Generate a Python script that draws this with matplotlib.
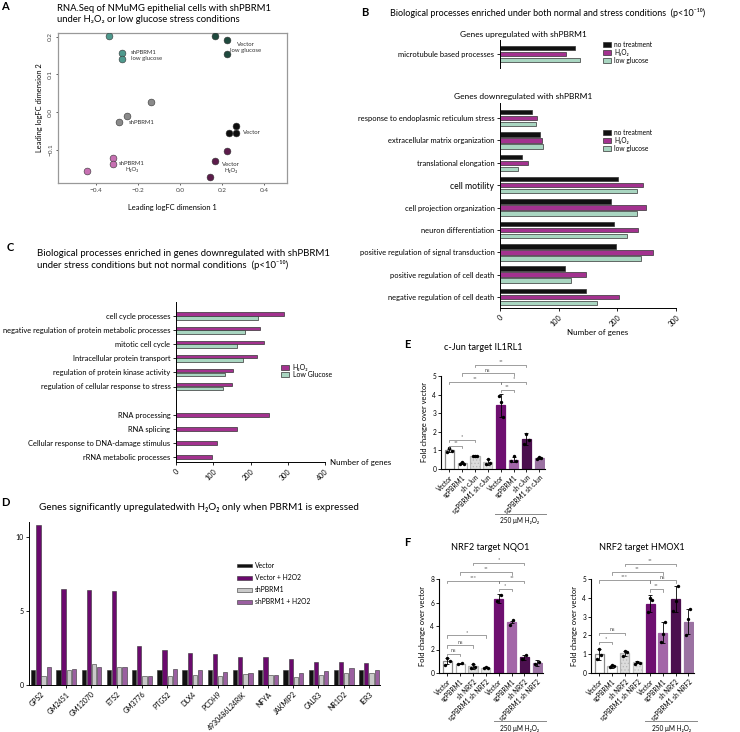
import matplotlib
matplotlib.use('Agg')
import matplotlib.pyplot as plt
import numpy as np
from matplotlib.patches import Patch
from matplotlib.lines import Line2D

plt.rcParams['font.family'] = ['Lato', 'DejaVu Sans']
plt.rcParams['axes.linewidth'] = 0.7
plt.rcParams['xtick.major.width'] = 0.6
plt.rcParams['ytick.major.width'] = 0.6
plt.rcParams['xtick.major.size'] = 2
plt.rcParams['ytick.major.size'] = 2
plt.rcParams['hatch.linewidth'] = 0.5

# ---------------- data ----------------
# Panel A (MDS plot)
a_vec_x = [0.267, 0.235, 0.267]
a_vec_y = [-0.036, -0.055, -0.055]
a_sh_x = [-0.135, -0.25, -0.29]
a_sh_y = [0.028, -0.01, -0.026]
a_vech_x = [0.224, 0.167, 0.143]
a_vech_y = [-0.102, -0.129, -0.172]
a_shh_x = [-0.32, -0.32, -0.44]
a_shh_y = [-0.121, -0.137, -0.155]
a_vecl_x = [0.167, 0.224, 0.224]
a_vecl_y = [0.203, 0.192, 0.155]
a_shl_x = [-0.338, -0.276, -0.276]
a_shl_y = [0.203, 0.158, 0.142]

# Panel B
b_up_cats = ["microtubule based processes"]
b_up_none = [128]
b_up_h2o2 = [113]
b_up_lowglu = [136]
b_down_cats = ["response to endoplasmic reticulum stress", "extracellular matrix organization",
               "translational elongation", "cell motility", "cell projection organization",
               "neuron differentiation", "positive regulation of signal transduction",
               "positive regulation of cell death", "negative regulation of cell death"]
b_down_none = [55, 69, 37, 201, 190, 194, 197, 111, 147]
b_down_h2o2 = [63, 71, 47, 243, 249, 236, 260, 147, 203]
b_down_lowglu = [61, 73, 30, 234, 234, 217, 241, 121, 165]
b_legend = ["no treatment", "H₂O₂", "low glucose"]

# Panel C
c_both_cats = ["cell cycle processes", "negative regulation of protein metabolic processes",
               "mitotic cell cycle", "Intracellular protein transport",
               "regulation of protein kinase activity", "regulation of cellular response to stress"]
c_both_h2o2 = [291, 226, 235, 218, 154, 151]
c_both_lowglu = [220, 185, 163, 179, 132, 127]
c_only_cats = ["RNA processing", "RNA splicing", "Cellular response to DNA-damage stimulus",
               "rRNA metabolic processes"]
c_only_h2o2 = [251, 163, 111, 97]

# Panel D
d_genes = ["GPS2", "GM2451", "GM12070", "ETS2", "GM3776", "PTGS2", "DLX4", "PCDH9",
           "4930486L24RIK", "NFYA", "JAKMIP2", "CALR3", "NR1D2", "IER3"]
d_vector = [1.0] * 14
d_vector_h2o2 = [10.77, 6.45, 6.38, 6.31, 2.62, 2.33, 2.13, 2.08, 1.88, 1.86, 1.76, 1.56, 1.52, 1.49]
d_sh = [0.6, 1.0, 1.43, 1.24, 0.6, 0.63, 0.7, 0.63, 0.75, 0.68, 0.52, 0.68, 0.81, 0.84]
d_sh_h2o2 = [1.2, 1.08, 1.2, 1.24, 0.63, 1.06, 1.04, 0.88, 0.79, 0.68, 0.84, 0.95, 1.13, 1.02]
d_legend = ["Vector", "Vector + H2O2", "shPBRM1", "shPBRM1 + H2O2"]

# Panel E (c-Jun target IL1RL1)
e_labels = ["Vector", "sgPBRM1", "sh cJun", "sgPBRM1 sh cJun",
            "Vector", "sgPBRM1", "sh cJun", "sgPBRM1 sh cJun"]
e_means = [1.0, 0.32, 0.7, 0.36, 3.42, 0.5, 1.6, 0.58]
e_errs = [0.1, 0.06, 0.05, 0.17, 0.6, 0.15, 0.33, 0.05]
e_dots = [[0.92, 1.12, 0.95], [0.28, 0.38, 0.27], [0.72, 0.68, 0.72], [0.25, 0.52, 0.3],
          [3.95, 3.62, 2.8], [0.45, 0.68, 0.45], [1.35, 1.9, 1.55], [0.55, 0.62, 0.58]]
e_brackets = [(0, 1, 1.25, "**"), (0, 2, 1.55, "*"), (4, 5, 4.25, "**"),
              (0, 4, 4.7, "**"), (4, 6, 4.7, "*"), (1, 5, 5.15, "ns"), (2, 6, 5.6, "**")]

# Panel F (NRF2 target NQO1)
f_labels = ["Vector", "sgPBRM1", "sh NRF2", "sgPBRM1 sh NRF2",
            "Vector", "sgPBRM1", "sh NRF2", "sgPBRM1 sh NRF2"]
f_means = [1.0, 0.8, 0.57, 0.45, 6.33, 4.34, 1.33, 0.85]
f_errs = [0.25, 0.02, 0.2, 0.05, 0.4, 0.1, 0.2, 0.25]
f_dots = [[0.65, 1.25, 1.0], [0.8, 0.82], [0.45, 0.75, 0.5], [0.42, 0.5, 0.45],
          [6.1, 6.6], [4.1, 4.55], [1.2, 1.5], [0.8, 0.95]]
f_brackets = [(0, 1, 1.65, "ns"), (0, 2, 2.35, "ns"), (0, 3, 3.2, "*"), (4, 5, 7.15, "*"),
              (0, 4, 7.86, "***"), (4, 6, 7.86, "**"), (1, 5, 8.57, "**"), (2, 6, 9.36, "*")]

# Panel F (NRF2 target HMOX1)
g_means = [1.0, 0.36, 1.05, 0.59, 3.68, 2.14, 3.95, 2.73]
g_errs = [0.3, 0.07, 0.12, 0.07, 0.45, 0.55, 0.7, 0.65]
g_dots = [[0.75, 1.3, 0.95], [0.3, 0.45, 0.35], [0.9, 1.15, 1.1], [0.5, 0.6, 0.55],
          [3.25, 4.0, 3.9], [1.65, 2.05, 2.7], [3.3, 3.85, 4.65], [2.0, 2.85, 3.4]]
g_brackets = [(0, 1, 1.66, "*"), (0, 2, 2.14, "ns"), (4, 5, 4.46, "**"),
              (0, 4, 4.93, "***"), (4, 6, 4.93, "ns"), (1, 5, 5.36, "**"), (2, 6, 5.8, "**")]

# ---------------- layout helpers ----------------
W, H = 740, 732
fig = plt.figure(figsize=(W / 100, H / 100), dpi=100)


def px_axes(l, t, r, b):
    return fig.add_axes([l / W, 1 - b / H, (r - l) / W, (b - t) / H])


def ftext(x, y, s, **kw):
    fig.text(x / W, 1 - y / H, s, **kw)


def fline(x1, x2, y, **kw):
    fig.add_artist(Line2D([x1 / W, x2 / W], [1 - y / H, 1 - y / H], transform=fig.transFigure, **kw))


PAN = dict(fontsize=8, fontweight='bold')

# ---------------- Panel A ----------------
ftext(5, 6, "A", va='center', ha='center', **PAN)
ftext(57, 14, "RNA.Seq of NMuMG epithelial cells with shPBRM1\nunder H₂O₂ or low glucose stress conditions",
      va='center', ha='left', fontsize=6.8, linespacing=1.25)
axA = px_axes(58, 33, 287, 183)
grp = [(a_vecl_x, a_vecl_y, '#1f4a3e'), (a_shl_x, a_shl_y, '#4f9a8e'), (a_sh_x, a_sh_y, '#8a8a8a'),
       (a_vec_x, a_vec_y, '#0d0d0d'), (a_shh_x, a_shh_y, '#c770b2'), (a_vech_x, a_vech_y, '#5c1c4b')]
for gx, gy, col in grp:
    axA.scatter(gx, gy, s=24, color=col, edgecolor='#333333', linewidth=0.4, zorder=3)
axA.set_xlim(-0.58, 0.51)
axA.set_ylim(-0.188, 0.21)
axA.set_xticks([-0.4, -0.2, 0.0, 0.2, 0.4])
axA.set_yticks([-0.1, 0.0, 0.1, 0.2])
axA.tick_params(labelsize=4.6, length=1.5, colors='#444444', pad=2)
for lab in axA.get_yticklabels():
    lab.set_rotation(90)
    lab.set_va('center')
for s in axA.spines.values():
    s.set_color('#999999')
    s.set_linewidth(0.9)
axA.set_xlabel("Leading logFC dimension 1", fontsize=5.4, labelpad=8)
axA.set_ylabel("Leading logFC dimension 2", fontsize=5.4, labelpad=4)
lf = dict(fontsize=4.3, color='#333333', linespacing=1.3)
axA.text(-0.233, 0.15, "shPBRM1\nlow glucose", ha='left', va='center', **lf)
axA.text(0.315, 0.172, "Vector\nlow glucose", ha='center', va='center', **lf)
axA.text(-0.243, -0.028, "shPBRM1", ha='left', va='center', **lf)
axA.text(0.30, -0.055, "Vector", ha='left', va='center', **lf)
axA.text(-0.229, -0.145, "shPBRM1\nH₂O₂", ha='center', va='center', **lf)
axA.text(0.243, -0.147, "Vector\nH₂O₂", ha='center', va='center', **lf)

# ---------------- Panel B ----------------
CB = ['#111111', '#a3328f', '#a9d6c1']
EB = '#333333'
ftext(365, 13, "B", va='center', ha='center', **PAN)
ftext(390, 13, "Biological processes enriched under both normal and stress conditions  (p<10⁻¹⁰)",
      va='center', ha='left', fontsize=6.5)
ftext(523, 35, "Genes upregulated with shPBRM1", va='center', ha='center', fontsize=6.0)
ftext(523, 97, "Genes downregulated with shPBRM1", va='center', ha='center', fontsize=6.0)

axB1 = px_axes(500, 40, 676, 68)
for k, vals in enumerate([b_up_none, b_up_h2o2, b_up_lowglu]):
    axB1.barh(np.arange(len(b_up_cats)) + (k - 1) * 1.0, vals, height=4.5 / 6.0,
              color=CB[k], edgecolor=EB, linewidth=0.5)
axB1.set_ylim(2.33, -2.33)
axB1.set_xlim(0, 300)
axB1.set_yticks([0])
axB1.set_yticklabels(b_up_cats, fontsize=5.4)
axB1.set_xticks([])
for s in ['top', 'right', 'bottom']:
    axB1.spines[s].set_visible(False)
axB1.tick_params(axis='y', length=2, pad=2)

axB2 = px_axes(500, 103, 676, 308)
step = 22.375
yb = np.arange(len(b_down_cats))
for k, vals in enumerate([b_down_none, b_down_h2o2, b_down_lowglu]):
    axB2.barh(yb + (k - 1) * 6 / step, vals, height=4.5 / step,
              color=CB[k], edgecolor=EB, linewidth=0.5)
axB2.set_ylim(8 + (308 - 297) / step, -(118 - 103) / step)
axB2.set_xlim(0, 300)
axB2.set_yticks(yb)
axB2.set_yticklabels(b_down_cats, fontsize=5.4)
for lab in axB2.get_yticklabels():
    if lab.get_text() == "cell motility":
        lab.set_fontsize(6.2)
axB2.set_xticks([0, 100, 200, 300])
axB2.set_xticklabels(["0", "100", "200", "300"], rotation=45, ha='right', va='top',
                     rotation_mode='anchor', fontsize=5.2)
for s in ['top', 'right']:
    axB2.spines[s].set_visible(False)
axB2.tick_params(axis='both', length=2, pad=2)
ftext(598, 333, "Number of genes", va='center', ha='center', fontsize=5.8)

hB = [Patch(facecolor=CB[k], edgecolor=EB, linewidth=0.5) for k in range(3)]
for yy in (41, 129):
    fig.legend(hB, b_legend, loc='upper left', bbox_to_anchor=(603 / W, 1 - yy / H),
               frameon=False, fontsize=4.8, handlelength=1.2, handleheight=0.7,
               labelspacing=0.15, handletextpad=0.5, borderpad=0, borderaxespad=0)

# ---------------- Panel C ----------------
CC = ['#a3328f', '#a9d6c1']
ftext(10, 248, "C", va='center', ha='center', **PAN)
ftext(37, 260, "Biological processes enriched in genes downregulated with shPBRM1\n"
      "under stress conditions but not normal conditions  (p<10⁻¹⁰)",
      va='center', ha='left', fontsize=6.9, linespacing=1.25)
axC = px_axes(176, 302, 325, 462)
cstep = 14.1
yc1 = np.arange(len(c_both_cats))
yc2 = np.arange(len(c_only_cats)) + len(c_both_cats) + 1
axC.barh(yc1 - 0.13, c_both_h2o2, height=0.24, color=CC[0], edgecolor=EB, linewidth=0.5)
axC.barh(yc1 + 0.13, c_both_lowglu, height=0.24, color=CC[1], edgecolor=EB, linewidth=0.5)
axC.barh(yc2, c_only_h2o2, height=0.26, color=CC[0], edgecolor=EB, linewidth=0.5)
axC.set_ylim(10 + (462 - 457) / cstep, -(316 - 302) / cstep)
axC.set_xlim(0, 400)
axC.set_yticks(list(yc1) + list(yc2))
axC.set_yticklabels(c_both_cats + c_only_cats, fontsize=5.4)
axC.set_xticks([0, 100, 200, 300, 400])
axC.set_xticklabels(["0", "100", "200", "300", "400"], rotation=45, ha='right', va='top',
                    rotation_mode='anchor', fontsize=5.2)
for s in ['top', 'right']:
    axC.spines[s].set_visible(False)
axC.tick_params(axis='both', length=2, pad=2)
ftext(330, 462, "Number of genes", va='center', ha='left', fontsize=5.8)
hC = [Patch(facecolor=CC[k], edgecolor=EB, linewidth=0.5) for k in range(2)]
fig.legend(hC, ["H₂O₂", "Low Glucose"], loc='upper left', bbox_to_anchor=(281 / W, 1 - 364 / H),
           frameon=False, fontsize=5.0, handlelength=1.2, handleheight=0.7,
           labelspacing=0.05, handletextpad=0.5, borderpad=0, borderaxespad=0)

# ---------------- Panel D ----------------
CD = ['#111111', '#6b0a6e', '#c9c9c9', '#9a5fa0']
ftext(5, 503, "D", va='center', ha='center', **PAN)
ftext(199, 507, "Genes significantly upregulatedwith H₂O₂ only when PBRM1 is expressed",
      va='center', ha='center', fontsize=7.1)
axD = px_axes(29, 522, 380, 685)
xd = np.arange(len(d_genes))
for k, vals in enumerate([d_vector, d_vector_h2o2, d_sh, d_sh_h2o2]):
    axD.bar(xd + (k - 1.5) * 0.205, vals, width=0.17, color=CD[k],
            edgecolor='#333333', linewidth=0.4)
axD.set_xlim(-0.476, 13.44)
axD.set_ylim(0, 11)
axD.set_yticks([0, 5, 10])
axD.set_xticks(xd)
axD.set_xticklabels(d_genes, rotation=45, ha='right', va='top', rotation_mode='anchor', fontsize=5.0)
axD.tick_params(axis='y', labelsize=5.0, length=2, pad=2)
axD.tick_params(axis='x', length=2, pad=2)
for s in ['top', 'right']:
    axD.spines[s].set_visible(False)
hD = [Patch(facecolor=CD[k], edgecolor='#333333', linewidth=0.4) for k in range(4)]
fig.legend(hD, d_legend, loc='upper left', bbox_to_anchor=(237 / W, 1 - 562 / H),
           frameon=False, fontsize=4.9, handlelength=2.2, handleheight=0.45,
           labelspacing=0.75, handletextpad=0.4, borderpad=0, borderaxespad=0)

# ---------------- qPCR panels ----------------
QFACE = ['white', 'white', '#dcdcdc', '#e6e6e6', '#6e0f70', '#a366a8', '#4b0f4e', '#9b72a2']
QEDGE = ['#8a8a8a', '#b0b0b0', '#b5b5b5', '#c0c0c0', '#6e0f70', '#a366a8', '#4b0f4e', '#9b72a2']
QHATCH = [None, None, '.....', '.....', None, None, '.....', None]


def qpcr(ax, labels, means, errs, dots, brackets, ymax, yticks):
    x = np.arange(len(means))
    for i in range(len(means)):
        ax.bar(x[i], means[i], width=0.72, color=QFACE[i], edgecolor=QEDGE[i], linewidth=0.9,
               hatch=QHATCH[i], zorder=2)
        ax.errorbar(x[i], means[i], yerr=errs[i], color='black', capsize=1.5, elinewidth=0.6,
                    capthick=0.6, zorder=3)
        n = len(dots[i])
        offs = [-0.17, 0, 0.17] if n == 3 else [-0.15, 0.15]
        ax.scatter(x[i] + np.array(offs), dots[i], s=6, color='black', zorder=4, linewidths=0)
    ax.set_xlim(-0.65, len(means) - 0.55)
    ax.set_ylim(0, ymax)
    ax.set_yticks(yticks)
    ax.set_xticks(x)
    ax.set_xticklabels(labels, rotation=45, ha='right', va='top', rotation_mode='anchor', fontsize=4.7)
    ax.tick_params(axis='y', labelsize=4.8, length=2, pad=1.5)
    ax.tick_params(axis='x', length=2, pad=1.5)
    for s in ['top', 'right']:
        ax.spines[s].set_visible(False)
    for s in ['left', 'bottom']:
        ax.spines[s].set_linewidth(0.8)
    ax.set_ylabel("Fold change over vector", fontsize=5.4, labelpad=3)
    hk = ymax * 0.025
    for i, j, yv, t in brackets:
        ax.plot([x[i], x[i], x[j], x[j]], [yv - hk, yv, yv, yv - hk], color='#777777', lw=0.5,
                clip_on=False, zorder=5)
        ax.text((x[i] + x[j]) / 2, yv + hk * 0.3, t, ha='center', va='bottom', fontsize=4.0,
                color='#555555', clip_on=False)


ftext(407, 344, "E", va='center', ha='center', **PAN)
ftext(483, 347, "c-Jun target IL1RL1", va='center', ha='center', fontsize=6.6)
axE = px_axes(441, 376, 545, 469)
qpcr(axE, e_labels, e_means, e_errs, e_dots, e_brackets, 5, [0, 1, 2, 3, 4, 5])
fline(495, 546, 514, color='#888888', lw=0.7)
ftext(520, 521, "250 μM H₂O₂", va='center', ha='center', fontsize=4.7)

ftext(407, 543, "F", va='center', ha='center', **PAN)
ftext(490, 548, "NRF2 target NQO1", va='center', ha='center', fontsize=6.6)
axF = px_axes(439, 579, 543, 673)
qpcr(axF, f_labels, f_means, f_errs, f_dots, f_brackets, 8, [0, 2, 4, 6, 8])
fline(494, 546, 721, color='#888888', lw=0.7)
ftext(520, 729, "250 μM H₂O₂", va='center', ha='center', fontsize=4.7)

ftext(642, 548, "NRF2 target HMOX1", va='center', ha='center', fontsize=6.6)
axG = px_axes(591, 579, 694, 673)
qpcr(axG, f_labels, g_means, g_errs, g_dots, g_brackets, 5, [0, 1, 2, 3, 4, 5])
fline(645, 697, 721, color='#888888', lw=0.7)
ftext(671, 729, "250 μM H₂O₂", va='center', ha='center', fontsize=4.7)

fig.savefig("out.png", dpi=100)
